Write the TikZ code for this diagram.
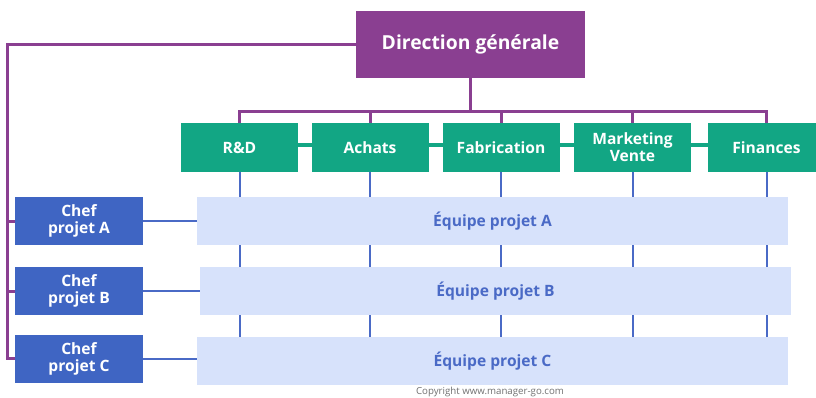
\documentclass[tikz,border=0pt]{standalone}
\usepackage{fontspec}
\setmainfont{Open Sans}
\usetikzlibrary{positioning}
\definecolor{direction}{HTML}{8A3F91}
\definecolor{service}{HTML}{12A684}
\definecolor{chef}{HTML}{3F65C3}
\definecolor{equipe}{HTML}{D7E2FB}
\definecolor{equipetext}{HTML}{4A6AC6}
\definecolor{copygray}{HTML}{707070}
\tikzset{
  box/.style={inner sep=0pt,align=center,font=\bfseries\fontsize{15.6}{17}\selectfont},
  dirbox/.style={box,fill=direction,text=white,minimum width=229pt,minimum height=67pt,
    font=\bfseries\fontsize{19.3}{21}\selectfont},
  servicebox/.style={box,fill=service,text=white,minimum width=117pt,minimum height=49pt},
  chefbox/.style={box,fill=chef,text=white,minimum width=128pt,minimum height=48pt},
  teambar/.style={box,fill=equipe,text=equipetext,minimum width=591pt,minimum height=48pt},
  hier/.style={draw=direction,line width=3pt},
  proj/.style={draw=equipetext,line width=2pt},
  band/.style={draw=service,line width=4pt}}

\begin{document}
\begin{tikzpicture}[x=1pt,y=-1pt]
\useasboundingbox (0,0) rectangle (816,398);
% direction and services
\node[dirbox] (dg) at (470.5,44.5) {Direction générale};
\draw[band] ([yshift=2.5pt]239.5,147.5) -- ([yshift=2.5pt]766.5,147.5);
\node[servicebox] (rd) at (239.5,147.5) {R\&D};
\node[servicebox] (ach) at (370,147.5) {Achats};
\node[servicebox] (fab) at (501,147.5) {Fabrication};
\node[servicebox] (mkt) at (632.5,147.5) {Marketing\\Vente};
\node[servicebox] (fin) at (766.5,147.5) {Finances};
% project managers and teams
\node[chefbox] (chefA) at (79,221) {Chef\\projet A};
\node[chefbox] (chefB) at (79,291) {Chef\\projet B};
\node[chefbox] (chefC) at (79,358.5) {Chef\\projet C};
\node[teambar] (eqA) at (492.5,221) {Équipe projet A};
\node[teambar] (eqB) at (495.5,291) {Équipe projet B};
\node[teambar] (eqC) at (492.5,361) {Équipe projet C};
% hierarchy links
\coordinate (bus) at (470.5,112);
\draw[hier] (dg.south) -- (bus);
\foreach \s in {rd,ach,fab,mkt,fin}
  \draw[hier] (\s.north) |- (bus);
\draw[hier] (dg.west) -| ([xshift=-7pt]chefC.west) -- (chefC.west);
\foreach \c in {chefA,chefB}
  \draw[hier] ([xshift=-7pt]\c.west) -- (\c.west);
% project links
\foreach \c/\e in {chefA/eqA,chefB/eqB,chefC/eqC}
  \draw[proj] (\c.east) -- (\e.west |- \c.east);
\foreach \s in {rd,ach,fab,mkt,fin}{
  \draw[proj] (\s.south) -- (eqA.north -| \s.south);
  \draw[proj] (eqA.south -| \s.south) -- (eqB.north -| \s.south);
  \draw[proj] (eqB.south -| \s.south) -- (eqC.north -| \s.south);
}
\node[text=copygray,font=\fontsize{9.7}{11}\selectfont] (copy) at (490,392) {Copyright www.manager-go.com};
\end{tikzpicture}
\end{document}
